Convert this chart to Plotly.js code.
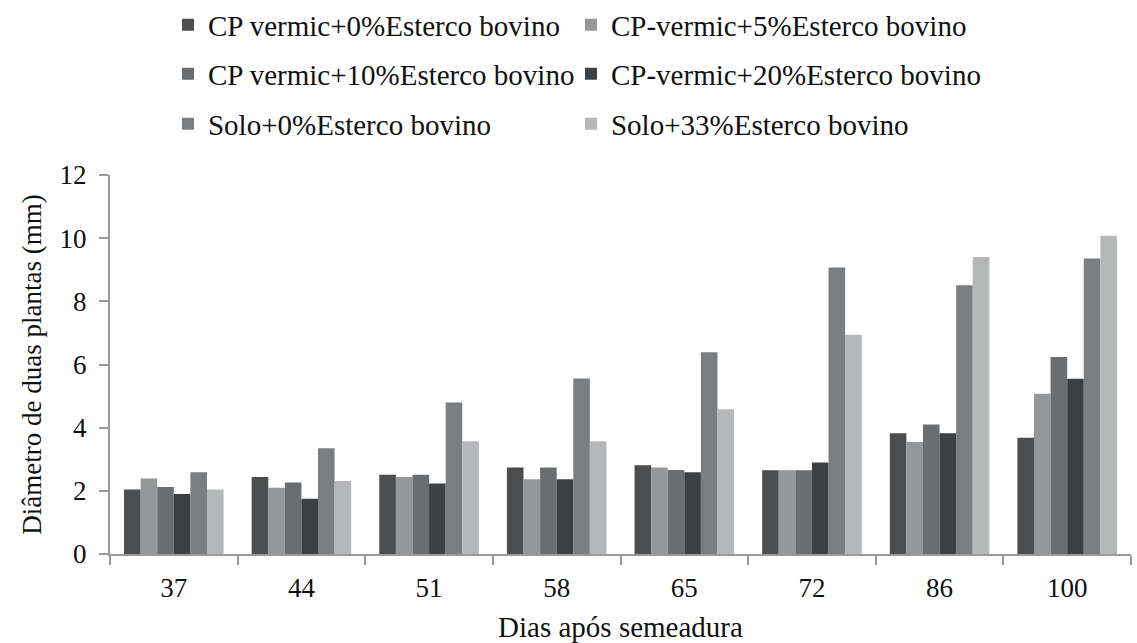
<!DOCTYPE html>
<html>
<head>
<meta charset="utf-8">
<script src="https://cdn.plot.ly/plotly-3.0.1.min.js"></script>
<style>html,body{margin:0;padding:0;background:#fff;}#chart{width:1137px;height:643px;}</style>
</head>
<body>
<div id="chart"></div>
<script>
const days = ['37', '44', '51', '58', '65', '72', '86', '100'];
const seriesNames = [
  'CP vermic+0%Esterco bovino',
  'CP-vermic+5%Esterco bovino',
  'CP vermic+10%Esterco bovino',
  'CP-vermic+20%Esterco bovino',
  'Solo+0%Esterco bovino',
  'Solo+33%Esterco bovino'
];
const cp0  = [2.04, 2.44, 2.51, 2.74, 2.81, 2.65, 3.82, 3.68];
const cp5  = [2.39, 2.10, 2.44, 2.37, 2.74, 2.65, 3.55, 5.07];
const cp10 = [2.12, 2.26, 2.51, 2.74, 2.66, 2.65, 4.10, 6.24];
const cp20 = [1.90, 1.75, 2.23, 2.37, 2.59, 2.90, 3.82, 5.55];
const solo0  = [2.59, 3.35, 4.80, 5.56, 6.39, 9.07, 8.51, 9.36];
const solo33 = [2.04, 2.31, 3.57, 3.57, 4.58, 6.94, 9.40, 10.08];
const yTicks = [0, 2, 4, 6, 8, 10, 12];

const values = [cp0, cp5, cp10, cp20, solo0, solo33];
const colors = ['#4b4d4f', '#959798', '#6b6e70', '#3d4043', '#7b7e81', '#b5b7b8'];
const legendIds = ['legend', 'legend2', 'legend3', 'legend4', 'legend5', 'legend6'];
const legendX = [0.0568, 0.4515];          // two legend columns (paper fraction)
const legendRowY = [25, 74, 124];          // row centres (px from top)

const serif = '"Liberation Serif", "Times New Roman", serif';
const traces = values.map((v, i) => ({
  type: 'bar',
  name: seriesNames[i],
  x: days,
  y: v,
  marker: {color: colors[i], line: {width: 0}},
  legend: legendIds[i],
  hoverinfo: 'x+y+name'
}));

const layout = {
  width: 1137, height: 643,
  margin: {l: 110, r: 6, t: 175, b: 89},
  paper_bgcolor: '#fff', plot_bgcolor: '#fff',
  font: {family: serif, color: '#111'},
  barmode: 'group',
  bargap: 0.22,
  bargroupgap: 0,
  showlegend: true,
  xaxis: {
    type: 'category',
    tickson: 'boundaries',
    ticks: 'outside', ticklen: 9, tickwidth: 2, tickcolor: '#9a9a9a',
    showline: true, linecolor: '#9a9a9a', linewidth: 2,
    showgrid: false, zeroline: false,
    tickfont: {family: serif, size: 27, color: '#111'},
    ticklabelstandoff: 9,
    title: {text: 'Dias após semeadura', font: {family: serif, size: 29, color: '#111'}, standoff: 18},
    automargin: false
  },
  yaxis: {
    range: [0, 12],
    tickvals: yTicks,
    ticktext: yTicks.map(String),
    ticks: 'outside', ticklen: 9, tickwidth: 2, tickcolor: '#9a9a9a',
    showline: true, linecolor: '#9a9a9a', linewidth: 2,
    showgrid: false, zeroline: false,
    tickfont: {family: serif, size: 27, color: '#111'},
    ticklabelstandoff: 7,
    title: {text: 'Diâmetro de duas plantas (mm)', font: {family: serif, size: 27, color: '#111'}, standoff: 10},
    automargin: false
  }
};

legendIds.forEach((id, i) => {
  layout[id] = {
    orientation: 'v',
    xref: 'paper', yref: 'container',
    xanchor: 'left', yanchor: 'middle',
    x: legendX[i % 2],
    y: 1 - legendRowY[Math.floor(i / 2)] / 643,
    font: {family: serif, size: 29, color: '#111'},
    bgcolor: 'rgba(0,0,0,0)',
    borderwidth: 0,
    itemclick: false, itemdoubleclick: false
  };
});

Plotly.newPlot('chart', traces, layout, {displayModeBar: false, staticPlot: true});
</script>
</body>
</html>
